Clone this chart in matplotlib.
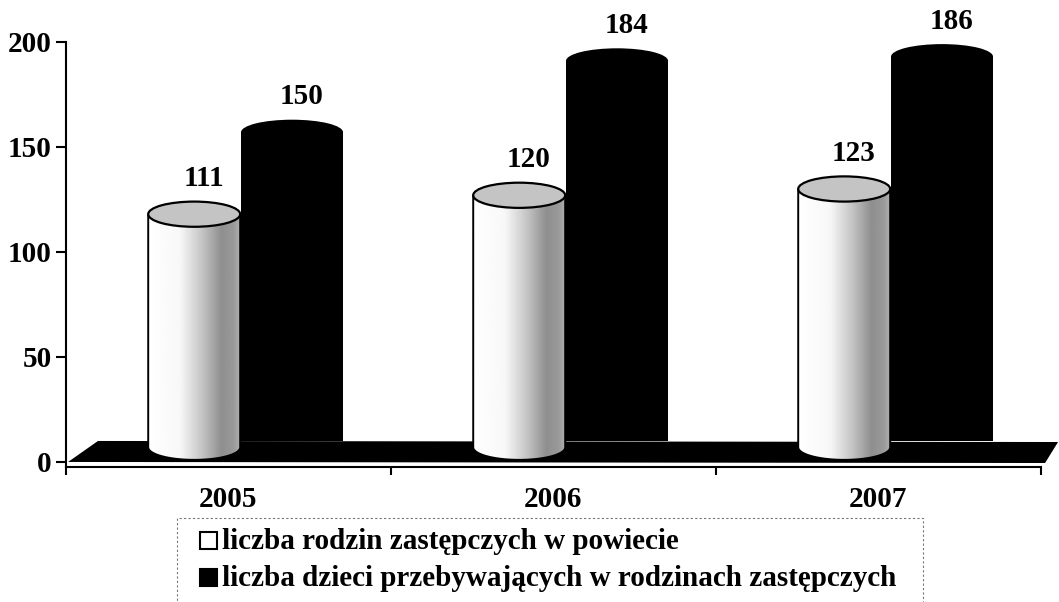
import matplotlib
matplotlib.use("Agg")
import matplotlib.pyplot as plt
import numpy as np
from matplotlib.patches import Ellipse, Polygon, PathPatch, Rectangle
from matplotlib.path import Path

plt.rcParams["font.family"] = ["Liberation Serif", "DejaVu Serif"]
plt.rcParams["font.weight"] = "bold"

# ── Data ──────────────────────────────────────────────────────────────────────
years = ["2005", "2006", "2007"]
rodziny = [111, 120, 123]   # liczba rodzin zastępczych w powiecie
dzieci = [150, 184, 186]    # liczba dzieci przebywających w rodzinach zastępczych
labels = ["liczba rodzin zastępczych w powiecie",
          "liczba dzieci przebywających w rodzinach zastępczych"]

# ── Look ──────────────────────────────────────────────────────────────────────
FS = 21
DEPTH = 7        # 3D lift of cylinder bodies (data units)
ELL_H = 12       # ellipse height (data units)
FLOOR_TOP = 10
W_WHITE, OFF_WHITE = 0.283, -0.104
W_BLACK, OFF_BLACK = 0.314, 0.197

W, H = 1059, 602
fig = plt.figure(figsize=(W / 100, H / 100), dpi=100, facecolor="white")
ax = fig.add_axes([65.5 / W, 1 - 467 / H, 975 / W, 425 / H])
ax.set_xlim(-0.5, len(years) - 0.5)
ax.set_ylim(-2.4, 200)

# floor
floor = Polygon([(-0.492, 0), (-0.40, FLOOR_TOP), (2.554, FLOOR_TOP - 0.5),
                 (2.514, -0.5)], closed=True, fc="black", ec="none",
                clip_on=False, zorder=1)
ax.add_patch(floor)


def cylinder_path(xc, w, y0, y1, eh):
    # silhouette: left side, lower half of bottom ellipse, right side, flat top
    t = np.linspace(np.pi, 2 * np.pi, 60)
    arc = np.column_stack([xc + w / 2 * np.cos(t), y0 + eh / 2 * np.sin(t)])
    verts = np.vstack([[xc - w / 2, y1], arc, [xc + w / 2, y1], [xc - w / 2, y1]])
    return Path(verts)


# gray profile across the white cylinder (left lit, right shaded)
tt = np.linspace(0, 1, 200)
shade = np.interp(tt, [0, 0.35, 0.6, 0.8, 0.93, 1.0], [1.0, 0.97, 0.76, 0.56, 0.6, 0.68])
grad = np.tile(shade, (2, 1))

for i, (a, b) in enumerate(zip(rodziny, dzieci)):
    # black cylinder (behind)
    xb = i + OFF_BLACK
    ax.add_patch(Rectangle((xb - W_BLACK / 2, FLOOR_TOP), W_BLACK, b + DEPTH - FLOOR_TOP,
                           fc="black", ec="none", zorder=2))
    ax.add_patch(Ellipse((xb, b + DEPTH), W_BLACK, ELL_H, fc="black", ec="none", zorder=2))

    # white cylinder (front)
    xw = i + OFF_WHITE
    p = cylinder_path(xw, W_WHITE, DEPTH, a + DEPTH, ELL_H)
    clip = PathPatch(p, fc="none", ec="none", transform=ax.transData)
    ax.add_patch(clip)
    im = ax.imshow(grad, cmap="gray", vmin=0, vmax=1, aspect="auto",
                   extent=[xw - W_WHITE / 2, xw + W_WHITE / 2, 0, a + DEPTH],
                   zorder=3, interpolation="bilinear")
    im.set_clip_path(clip)
    ax.add_patch(PathPatch(p, fc="none", ec="black", lw=1.4, zorder=4))
    ax.add_patch(Ellipse((xw, a + DEPTH), W_WHITE, ELL_H, fc="#c4c4c4",
                         ec="black", lw=1.6, zorder=5))

    # value labels
    ax.text(xw + 0.03, a + 24, str(a), ha="center", va="center",
            fontsize=FS, fontweight="bold", zorder=6)
    ax.text(xb + 0.03, b + 24, str(b), ha="center", va="center",
            fontsize=FS, fontweight="bold", zorder=6)

ax.set_xlim(-0.5, len(years) - 0.5)
ax.set_ylim(-2.4, 200)

# axes styling
for s in ["top", "right"]:
    ax.spines[s].set_visible(False)
for s in ["left", "bottom"]:
    ax.spines[s].set_linewidth(1.5)
    ax.spines[s].set_zorder(7)
ax.set_yticks([0, 50, 100, 150, 200])
ax.tick_params(axis="y", length=7, width=1.5, pad=3, labelsize=FS)
ax.set_xticks(np.arange(len(years) + 1) - 0.5)
ax.set_xticklabels([])
ax.tick_params(axis="x", which="major", length=6, width=1.5)
ax.set_xticks(np.arange(len(years)), minor=True)
ax.set_xticklabels(years, minor=True, fontsize=FS, fontweight="bold")
ax.tick_params(axis="x", which="minor", length=0, pad=14)
for lab in ax.get_yticklabels():
    lab.set_fontweight("bold")

# ── Legend (manual, dashed frame) ─────────────────────────────────────────────
fig.patches.append(Rectangle((177 / W, 1 - 606 / H), (923 - 177) / W, (606 - 518) / H,
                             transform=fig.transFigure, fc="none", ec="#777777",
                             lw=0.8, ls=(0, (2, 2))))
for k, (lbl, fc) in enumerate(zip(labels, ["white", "black"])):
    ybase = 549 + k * 37
    fig.patches.append(Rectangle((200 / W, 1 - ybase / H), 17 / W, 17 / H,
                                 transform=fig.transFigure, fc=fc, ec="black", lw=1.5))
    fig.text(222 / W, 1 - ybase / H, lbl, fontsize=FS, fontweight="bold",
             ha="left", va="baseline")

fig.savefig("out.png", dpi=100, facecolor="white")
